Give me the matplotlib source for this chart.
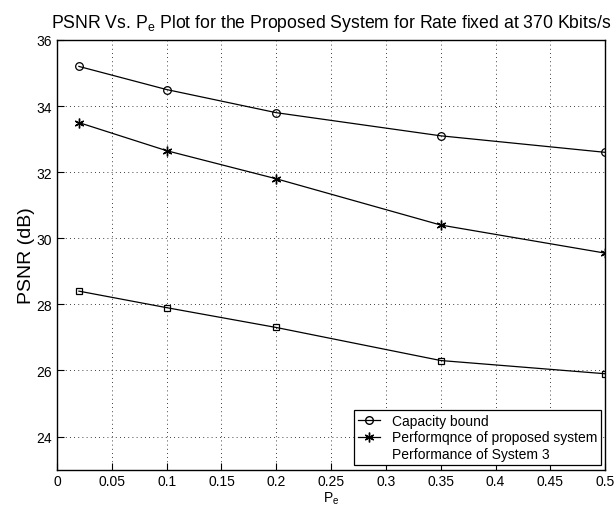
import numpy as np
import matplotlib.pyplot as plt
from matplotlib.lines import Line2D

pe = [0.02, 0.1, 0.2, 0.35, 0.5]
capacity = [35.2, 34.5, 33.8, 33.1, 32.6]
proposed = [33.5, 32.65, 31.8, 30.4, 29.55]
system3 = [28.4, 27.9, 27.3, 26.3, 25.9]

labels = ["Capacity bound", "Performqnce of proposed system", "Performance of System 3"]

plt.rcParams["font.family"] = ["Liberation Sans", "DejaVu Sans"]

fig = plt.figure(figsize=(6.16, 5.06), dpi=100)
ax = fig.add_axes([0.0925, 0.07, 0.89, 0.849])

star = (6, 2, 0)
ax.plot(pe, capacity, "k-", marker="o", mfc="none", ms=5.5, mew=0.9, lw=0.9)
ax.plot(pe, proposed, "k-", marker=star, ms=7, mew=1.0, lw=0.9)
ax.plot(pe, system3, "k-", marker="s", mfc="none", ms=4.5, mew=0.9, lw=0.9)

ax.set_xlim(0, 0.5)
ax.set_ylim(23, 36)
ax.set_xticks(np.arange(0, 0.51, 0.05))
ax.set_xticklabels(["0", "0.05", "0.1", "0.15", "0.2", "0.25", "0.3", "0.35", "0.4", "0.45", "0.5"])
ax.set_yticks([24, 26, 28, 30, 32, 34, 36])
ax.grid(True, color="k", linestyle=(0, (1, 4)), linewidth=0.6)
ax.tick_params(direction="in", labelsize=10, length=5)
for s in ax.spines.values():
    s.set_linewidth(1.0)

ax.set_title("PSNR Vs. P$_\\mathregular{e}$ Plot for the Proposed System for Rate fixed at 370 Kbits/s",
             fontsize=12.7, pad=9)
ax.set_ylabel("PSNR (dB)", fontsize=14, labelpad=1)
ax.set_xlabel("P$_\\mathregular{e}$", fontsize=10, labelpad=1)

handles = [
    Line2D([], [], color="k", marker="o", mfc="none", ms=5.5, lw=0.9),
    Line2D([], [], color="k", marker=star, ms=7, lw=0.9),
    Line2D([], [], color="none"),
]
leg = ax.legend(handles, labels, loc="lower right", fontsize=10, fancybox=False,
                edgecolor="k", framealpha=1, handlelength=1.6, borderaxespad=0.3,
                borderpad=0.3, labelspacing=0.2)
leg.get_frame().set_linewidth(0.9)

fig.savefig("out.png", dpi=100)
